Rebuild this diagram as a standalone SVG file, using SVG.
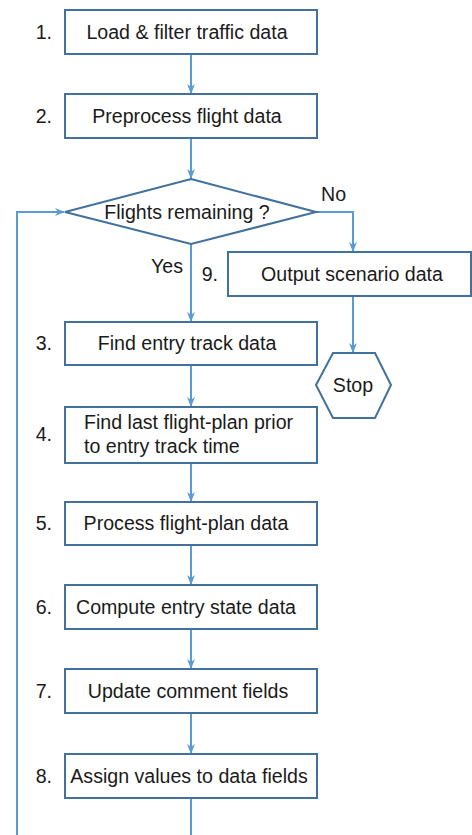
<svg xmlns="http://www.w3.org/2000/svg" width="472" height="835" viewBox="0 0 472 835">
<style>
.box{fill:#fff;stroke:#41719C;stroke-width:2}
.c{fill:none;stroke:#5B9BD5;stroke-width:2}
text{font-family:"Liberation Sans",Arial,sans-serif;font-size:19.6px;fill:#1a1a1a}
.m{text-anchor:middle}
.n{text-anchor:end}
</style>
<defs>
<marker id="ah" markerUnits="userSpaceOnUse" markerWidth="10" markerHeight="10" viewBox="0 0 10 10" refX="9" refY="5" orient="auto">
<path d="M0,1 L10,5 L0,9 L3,5 z" fill="#5B9BD5"/>
</marker>
</defs>
<rect width="472" height="835" fill="#fff"/>
<g id="connectors">
<path class="c" d="M191,54 V93" marker-end="url(#ah)"/>
<path class="c" d="M191,138 V178" marker-end="url(#ah)"/>
<path class="c" d="M191,244 V321" marker-end="url(#ah)"/>
<path class="c" d="M191,365 V406" marker-end="url(#ah)"/>
<path class="c" d="M191,463 V501" marker-end="url(#ah)"/>
<path class="c" d="M191,545 V584" marker-end="url(#ah)"/>
<path class="c" d="M191,629 V668" marker-end="url(#ah)"/>
<path class="c" d="M191,713 V753" marker-end="url(#ah)"/>
<path class="c" d="M191,798 V845 H17 V212 H64" marker-end="url(#ah)"/>
<path class="c" d="M316,212 H353 V251" marker-end="url(#ah)"/>
<path class="c" d="M353,296 V352" marker-end="url(#ah)"/>
<text x="183" y="273" class="n">Yes</text>
<text x="321" y="201">No</text>
</g>
<g id="n1"><rect class="box" x="65" y="10" width="252" height="44"/><text x="52" y="39" class="n">1.</text><text x="187" y="39" class="m">Load &amp; filter traffic data</text></g>
<g id="n2"><rect class="box" x="65" y="94" width="252" height="44"/><text x="52" y="123" class="n">2.</text><text x="187" y="123" class="m">Preprocess flight data</text></g>
<g id="dec"><polygon class="box" points="191,179 316,212 191,244 65,212"/><text x="187" y="218.5" class="m">Flights remaining ?</text></g>
<g id="n9"><rect class="box" x="228" y="252" width="243" height="44"/><text x="218" y="281" class="n">9.</text><text x="352" y="281" class="m">Output scenario data</text></g>
<g id="stop"><polygon class="box" points="316,385 333,353 375,353 391,385 375,418 333,418"/><text x="353" y="391.5" class="m">Stop</text></g>
<g id="n3"><rect class="box" x="65" y="322" width="252" height="43"/><text x="52" y="350" class="n">3.</text><text x="187" y="350" class="m">Find entry track data</text></g>
<g id="n4"><rect class="box" x="65" y="407" width="252" height="56"/><text x="52" y="441" class="n">4.</text><text x="84" y="428.5">Find last flight-plan prior</text><text x="84" y="453">to entry track time</text></g>
<g id="n5"><rect class="box" x="65" y="502" width="252" height="43"/><text x="52" y="530" class="n">5.</text><text x="186" y="530" class="m">Process flight-plan data</text></g>
<g id="n6"><rect class="box" x="65" y="585" width="252" height="44"/><text x="52" y="613.5" class="n">6.</text><text x="186" y="613.5" class="m">Compute entry state data</text></g>
<g id="n7"><rect class="box" x="65" y="669" width="252" height="44"/><text x="52" y="697.5" class="n">7.</text><text x="188" y="697.5" class="m">Update comment fields</text></g>
<g id="n8"><rect class="box" x="65" y="754" width="252" height="44"/><text x="52" y="782.5" class="n">8.</text><text x="189" y="782.5" class="m">Assign values to data fields</text></g>
</svg>
